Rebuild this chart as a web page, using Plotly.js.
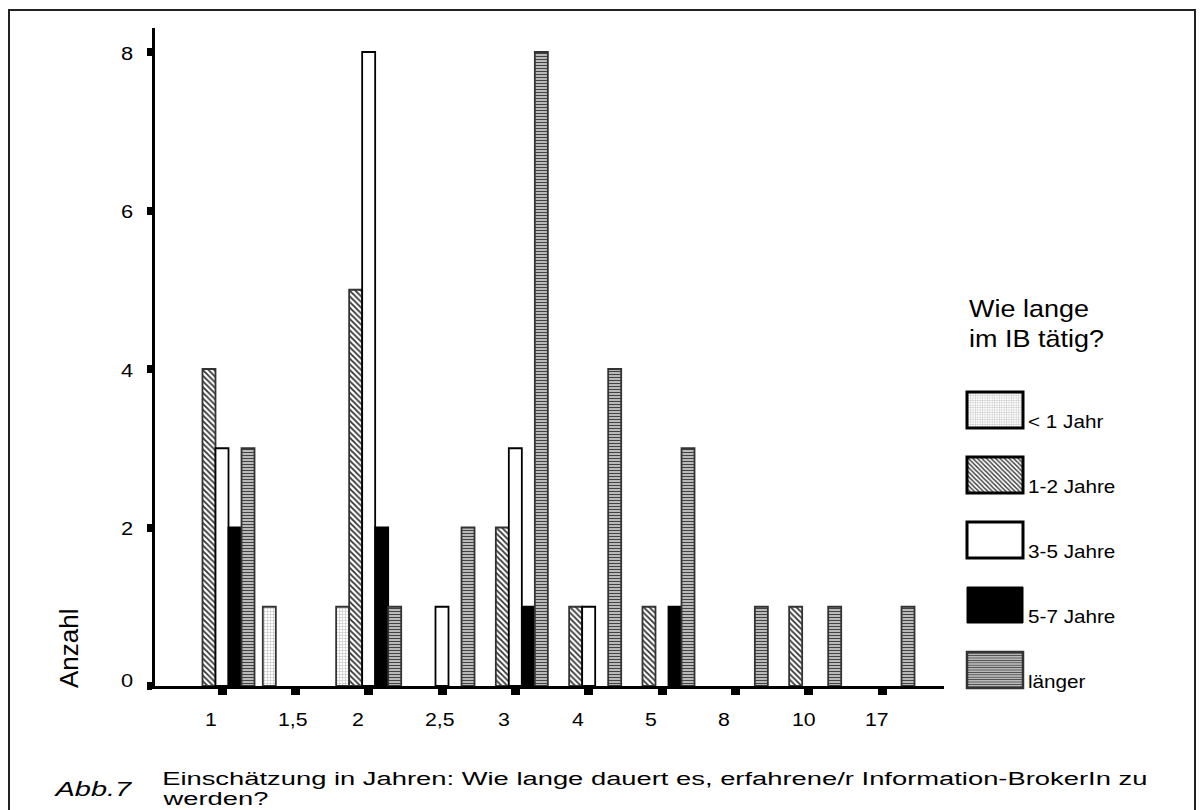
<!DOCTYPE html>
<html><head><meta charset="utf-8">
<script src="https://cdn.plot.ly/plotly-3.0.1.min.js"></script>
<style>html,body{margin:0;padding:0;background:#fff;overflow:hidden}#chart{width:1204px;height:810px}</style>
</head><body><div id="chart"></div>
<script>
// ---- data ----
const categories = ['1','1,5','2','2,5','3','4','5','8','10','17'];
const tickLabels = ['1','1,5','2','2,5','3','4','5','8','10','17'];
const seriesNames = ['< 1 Jahr','1-2 Jahre','3-5 Jahre','5-7 Jahre','länger'];
const lessThan1 = [0,1,1,0,0,0,0,0,0,0];
const years1to2 = [4,0,5,0,2,1,1,0,1,0];
const years3to5 = [3,0,8,1,3,1,0,0,0,0];
const years5to7 = [2,0,2,0,1,0,1,0,0,0];
const longer    = [3,0,1,2,8,4,3,1,1,1];
const yTickVals = [0,2,4,6,8];
const yTitle = 'Anzahl';
const legendTitle = ['Wie lange','im IB tätig?'];
const figLabel = 'Abb.7';
const captionLines = ['Einschätzung in Jahren: Wie lange dauert es, erfahrene/r Information-BrokerIn zu','werden?'];

// ---- styles ----
const FONT = 'Liberation Sans, Arial, Helvetica, sans-serif';
const L = 155, R = 944, T = 28, B = 686;
const px2x = p => (p - L) / (R - L);
const px2y = p => (B - p) / (B - T);

const seriesValues = [lessThan1, years1to2, years3to5, years5to7, longer];
const seriesStyles = [
  {color:'#ffffff', line:'#333', pattern:{shape:'+', fgcolor:'#b8b8b8', bgcolor:'#ffffff', size:3, solidity:0.3, fillmode:'replace'}},
  {color:'#ffffff', line:'#333', pattern:{shape:'\\', fgcolor:'#333333', bgcolor:'#ffffff', size:4, solidity:0.45, fillmode:'replace'}},
  {color:'#ffffff', line:'#000', pattern:{shape:''}},
  {color:'#000000', line:'#000', pattern:{shape:''}},
  {color:'#cccccc', line:'#333', pattern:{shape:'-', fgcolor:'#444444', bgcolor:'#d2d2d2', size:3, solidity:0.45, fillmode:'replace'}}
];
const legendStroke = [3, 3, 3, 1, 2.5];

// zero counts are not drawn as bars
const traces = seriesValues.map((vals, i) => ({
  type:'bar', x:categories, y:vals.map(v => v === 0 ? null : v), name:seriesNames[i],
  legendgroup:'g'+i,
  marker:{color:seriesStyles[i].color, line:{color:seriesStyles[i].line, width:1.8}, pattern:seriesStyles[i].pattern},
  hoverinfo:'skip'
}));

const annotations = [];
const annStretch = [];
function addAnn(a, s, of){ if (s) annStretch.push([annotations.length, s, of]); annotations.push(Object.assign({showarrow:false}, a)); }

// x tick labels (left-aligned a little before each tick, as in the reference)
categories.forEach((c, i) => addAnn({x:i, y:0, xref:'x', yref:'y', text:tickLabels[i], xanchor:'left', yanchor:'middle', xshift:-19, yshift:-33.5, font:{size:18.5, color:'#000', family:FONT}}, 1.15, 0));
addAnn({xref:'paper', yref:'paper', x:px2x(69), y:px2y(648), text:yTitle, textangle:-90, xanchor:'center', yanchor:'middle', font:{size:26, color:'#000', family:FONT}});
addAnn({xref:'paper', yref:'paper', x:px2x(967), y:px2y(308.7), text:legendTitle[0], xanchor:'left', yanchor:'middle', font:{size:24, color:'#000', family:FONT}}, 1.125, 0);
addAnn({xref:'paper', yref:'paper', x:px2x(967), y:px2y(338.7), text:legendTitle[1], xanchor:'left', yanchor:'middle', font:{size:24, color:'#000', family:FONT}}, 1.125, 0);
addAnn({xref:'paper', yref:'paper', x:px2x(52), y:px2y(789), text:figLabel, xanchor:'left', yanchor:'middle', font:{size:20, style:'italic', color:'#000', family:FONT}}, 1.45, 0);
addAnn({xref:'paper', yref:'paper', x:px2x(159.5), y:px2y(778.5), text:captionLines[0], xanchor:'left', yanchor:'middle', font:{size:19, color:'#000', family:FONT}}, 1.44, 0);
addAnn({xref:'paper', yref:'paper', x:px2x(159.5), y:px2y(798.5), text:captionLines[1], xanchor:'left', yanchor:'middle', font:{size:19, color:'#000', family:FONT}}, 1.44, 0);

const layout = {
  width:1204, height:810,
  margin:{l:L, r:1204-R, t:T, b:810-B, pad:0, autoexpand:false},
  paper_bgcolor:'#fff', plot_bgcolor:'#fff',
  font:{family:FONT, color:'#000'},
  barmode:'group', bargap:0.113, bargroupgap:0,
  hovermode:false,
  showlegend:true,
  legend:{x:1.03, y:0.5, xanchor:'left', yanchor:'top', bgcolor:'rgba(0,0,0,0)', borderwidth:0,
          traceorder:'grouped', tracegroupgap:30, font:{size:18, family:FONT, color:'#000'}},
  xaxis:{type:'category', range:[-0.9136, 9.8455], showline:true, linewidth:3, linecolor:'#000',
         ticks:'outside', ticklen:6, tickwidth:9, tickcolor:'#000', showticklabels:false,
         showgrid:false, zeroline:false, fixedrange:true},
  yaxis:{range:[0, 8.303], tickmode:'array', tickvals:yTickVals, ticktext:yTickVals.map(String),
         showline:true, linewidth:3, linecolor:'#000', ticks:'outside', ticklen:5, tickwidth:8, tickcolor:'#000',
         tickfont:{size:19, family:FONT, color:'#000'}, ticklabelstandoff:10,
         showgrid:false, zeroline:false, fixedrange:true},
  shapes:[{type:'rect', xref:'paper', yref:'paper', x0:px2x(9), x1:px2x(1195), y0:px2y(10), y1:px2y(830),
           line:{color:'#222', width:2}, fillcolor:'rgba(0,0,0,0)', layer:'below'}],
  annotations:annotations
};

const gd = document.getElementById('chart');

function stretch(el, s, of, dy){
  const bb = el.getBBox();
  const x0 = bb.x + bb.width * of;
  const ex = el.getAttribute('transform') || '';
  el.setAttribute('transform', ex + ' translate(' + x0 + ',' + (dy || 0) + ') scale(' + s + ',1) translate(' + (-x0) + ',0)');
}

function fix(){
  const r = gd.getBoundingClientRect();
  annStretch.forEach(([idx, s, of]) => {
    const t = gd.querySelector('.annotation[data-index="' + idx + '"] text.annotation-text');
    if (t) stretch(t, s, of);
  });
  // the reference lifts the "0" label just above the x axis
  gd.querySelectorAll('.ytick text').forEach(t => stretch(t, 1.15, 1, t.textContent.trim() === '0' ? -6 : 1));
  gd.querySelectorAll('.legend .scrollbox').forEach(s => s.removeAttribute('clip-path'));
  const items = gd.querySelectorAll('.legend .traces');
  items.forEach((g, i) => {
    const m = g.parentNode.getScreenCTM();
    const ox = m.e - r.left, oy = m.f - r.top;
    g.setAttribute('transform', 'translate(' + (967 - ox) + ',' + (392 + 65 * i - oy) + ')');
    g.querySelectorAll('.layers, .legendpoints, .legendsymbols, .legendfill, .legendlines').forEach(e => e.removeAttribute('transform'));
    g.querySelectorAll('.legendpoints path').forEach(p => {
      p.setAttribute('d', 'M0,0H56V36H0Z');
      p.removeAttribute('transform');
      p.style.strokeWidth = legendStroke[i] + 'px';
      p.style.stroke = i === 4 ? '#333' : '#000';
    });
    const t = g.querySelector('text.legendtext');
    if (t) {
      t.removeAttribute('transform');
      t.setAttribute('x', 61); t.setAttribute('y', 36);
      t.setAttribute('text-anchor', 'start');
      t.querySelectorAll('tspan').forEach(ts => { if (ts.hasAttribute('x')) ts.setAttribute('x', 61); });
      stretch(t, 1.15, 0);
    }
    const tg = g.querySelector('.legendtoggle'); if (tg) tg.remove();
  });
}

Plotly.newPlot(gd, traces, layout, {staticPlot:true, displayModeBar:false}).then(() => {
  try { fix(); } catch (e) { console.error(e); }
});
</script>
</body></html>
